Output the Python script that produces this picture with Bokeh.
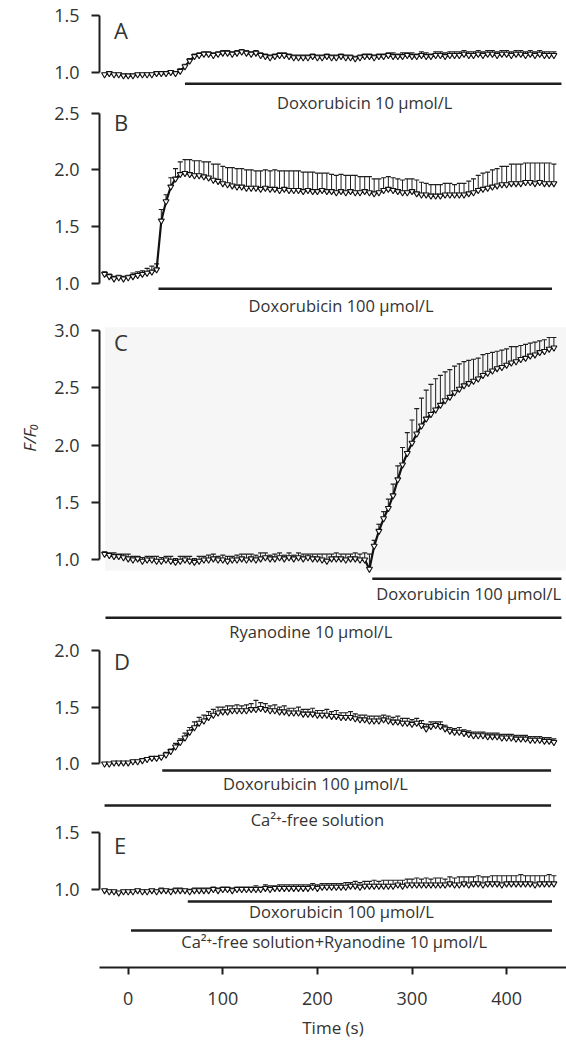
from bokeh.plotting import figure
from bokeh.layouts import column
from bokeh.models import (Range1d, FixedTicker, PrintfTickFormatter, Label,
                          BoxAnnotation, ColumnDataSource, Title)
from bokeh.core.properties import value
from bokeh.embed import file_html
from bokeh.resources import INLINE

# ---------------- data ----------------
time_s = list(range(-25, 451, 5))

a_mean = [0.98, 0.99, 0.98, 0.98, 0.97, 0.97, 0.97, 0.98, 0.98, 0.98,
          0.98, 0.99, 0.99, 0.99, 1.00, 0.99, 1.01, 1.05, 1.10, 1.14,
          1.15, 1.16, 1.16, 1.15, 1.16, 1.17, 1.17, 1.16, 1.17, 1.18,
          1.17, 1.16, 1.17, 1.15, 1.14, 1.13, 1.14, 1.15, 1.15, 1.14,
          1.13, 1.13, 1.13, 1.13, 1.14, 1.13, 1.13, 1.14, 1.13, 1.13,
          1.14, 1.13, 1.13, 1.12, 1.13, 1.14, 1.14, 1.13, 1.14, 1.14,
          1.15, 1.14, 1.14, 1.14, 1.15, 1.14, 1.14, 1.15, 1.14, 1.14,
          1.15, 1.15, 1.14, 1.15, 1.15, 1.15, 1.16, 1.15, 1.15, 1.16,
          1.15, 1.16, 1.16, 1.15, 1.16, 1.16, 1.15, 1.16, 1.16, 1.15,
          1.16, 1.15, 1.16, 1.15, 1.15, 1.15]
a_sem = [0.01, 0.01, 0.01, 0.01, 0.01, 0.01, 0.01, 0.01, 0.01, 0.01,
         0.01, 0.01, 0.01, 0.01, 0.01, 0.01, 0.02, 0.02, 0.02, 0.02,
         0.02, 0.02, 0.02, 0.02, 0.02, 0.02, 0.02, 0.02, 0.02, 0.02,
         0.02, 0.02, 0.02, 0.02, 0.02, 0.02, 0.02, 0.02, 0.02, 0.02,
         0.02, 0.02, 0.02, 0.02, 0.02, 0.02, 0.02, 0.02, 0.02, 0.02,
         0.02, 0.02, 0.02, 0.02, 0.02, 0.02, 0.02, 0.02, 0.02, 0.02,
         0.02, 0.03, 0.02, 0.03, 0.02, 0.03, 0.02, 0.03, 0.03, 0.02,
         0.03, 0.03, 0.03, 0.03, 0.03, 0.03, 0.03, 0.03, 0.03, 0.03,
         0.03, 0.03, 0.03, 0.03, 0.03, 0.03, 0.03, 0.03, 0.03, 0.03,
         0.03, 0.03, 0.03, 0.03, 0.03, 0.03]

b_mean = [1.08, 1.06, 1.04, 1.05, 1.04, 1.05, 1.06, 1.07, 1.08, 1.09,
          1.10, 1.12, 1.55, 1.72, 1.85, 1.92, 1.96, 1.97, 1.96, 1.95,
          1.95, 1.94, 1.93, 1.91, 1.90, 1.88, 1.87, 1.86, 1.85, 1.85,
          1.84, 1.84, 1.84, 1.83, 1.84, 1.83, 1.83, 1.82, 1.83, 1.82,
          1.82, 1.82, 1.81, 1.82, 1.81, 1.81, 1.82, 1.81, 1.81, 1.80,
          1.81, 1.80, 1.81, 1.80, 1.80, 1.81, 1.80, 1.79, 1.80, 1.82,
          1.83, 1.82, 1.81, 1.80, 1.80, 1.81, 1.79, 1.78, 1.78, 1.77,
          1.77, 1.77, 1.78, 1.78, 1.78, 1.78, 1.78, 1.79, 1.80, 1.82,
          1.83, 1.84, 1.85, 1.86, 1.87, 1.87, 1.88, 1.88, 1.88, 1.89,
          1.89, 1.88, 1.89, 1.88, 1.88, 1.88]
b_sem = [0.02, 0.02, 0.02, 0.02, 0.02, 0.02, 0.03, 0.03, 0.03, 0.04,
         0.05, 0.05, 0.10, 0.06, 0.08, 0.09, 0.11, 0.12, 0.13, 0.13,
         0.13, 0.13, 0.14, 0.14, 0.15, 0.15, 0.15, 0.16, 0.16, 0.16,
         0.16, 0.16, 0.15, 0.16, 0.16, 0.16, 0.17, 0.17, 0.16, 0.17,
         0.17, 0.17, 0.17, 0.16, 0.17, 0.16, 0.15, 0.16, 0.15, 0.15,
         0.15, 0.15, 0.14, 0.15, 0.14, 0.13, 0.14, 0.13, 0.12, 0.11,
         0.11, 0.11, 0.11, 0.11, 0.12, 0.11, 0.12, 0.11, 0.10, 0.10,
         0.10, 0.10, 0.10, 0.10, 0.09, 0.10, 0.10, 0.11, 0.12, 0.13,
         0.14, 0.14, 0.15, 0.15, 0.16, 0.16, 0.17, 0.17, 0.17, 0.17,
         0.17, 0.18, 0.17, 0.18, 0.18, 0.17]

c_mean = [1.05, 1.04, 1.03, 1.03, 1.02, 1.01, 1.00, 1.01, 0.99, 1.00,
          1.00, 0.99, 0.99, 1.00, 0.99, 0.98, 0.99, 1.00, 0.99, 0.98,
          0.99, 1.00, 1.00, 1.01, 1.00, 1.00, 0.99, 1.00, 1.00, 1.01,
          1.00, 1.01, 1.00, 1.01, 1.02, 1.01, 1.01, 1.02, 1.01, 1.02,
          1.01, 1.02, 1.01, 1.02, 1.01, 1.01, 1.00, 0.99, 1.01, 1.01,
          1.01, 1.00, 1.01, 1.01, 1.00, 1.00, 0.92, 1.12, 1.25, 1.36,
          1.45, 1.56, 1.70, 1.83, 1.93, 2.02, 2.10, 2.17, 2.23, 2.27,
          2.31, 2.35, 2.39, 2.42, 2.46, 2.49, 2.52, 2.54, 2.56, 2.58,
          2.61, 2.63, 2.65, 2.67, 2.68, 2.70, 2.72, 2.73, 2.75, 2.76,
          2.78, 2.79, 2.81, 2.82, 2.84, 2.85]
c_sem = [0.02, 0.02, 0.03, 0.02, 0.03, 0.04, 0.03, 0.02, 0.03, 0.03,
         0.03, 0.04, 0.03, 0.03, 0.04, 0.03, 0.04, 0.03, 0.04, 0.03,
         0.04, 0.03, 0.04, 0.04, 0.03, 0.04, 0.04, 0.03, 0.04, 0.04,
         0.05, 0.04, 0.04, 0.05, 0.04, 0.03, 0.04, 0.04, 0.03, 0.04,
         0.03, 0.04, 0.04, 0.03, 0.04, 0.04, 0.05, 0.06, 0.04, 0.05,
         0.04, 0.05, 0.04, 0.05, 0.05, 0.06, 0.13, 0.05, 0.06, 0.06,
         0.08, 0.10, 0.12, 0.15, 0.18, 0.20, 0.22, 0.24, 0.25, 0.26,
         0.27, 0.26, 0.25, 0.24, 0.23, 0.22, 0.21, 0.20, 0.19, 0.18,
         0.18, 0.17, 0.16, 0.15, 0.15, 0.14, 0.14, 0.13, 0.12, 0.12,
         0.11, 0.11, 0.10, 0.10, 0.10, 0.09]

d_mean = [1.00, 1.00, 1.01, 1.01, 1.01, 1.01, 1.02, 1.02, 1.03, 1.04,
          1.05, 1.05, 1.06, 1.08, 1.11, 1.15, 1.19, 1.23, 1.28, 1.32,
          1.36, 1.38, 1.41, 1.43, 1.45, 1.46, 1.46, 1.47, 1.47, 1.47,
          1.47, 1.48, 1.48, 1.49, 1.48, 1.47, 1.47, 1.46, 1.46, 1.45,
          1.45, 1.45, 1.44, 1.44, 1.44, 1.43, 1.43, 1.43, 1.42, 1.42,
          1.41, 1.41, 1.41, 1.40, 1.39, 1.39, 1.38, 1.38, 1.38, 1.39,
          1.38, 1.37, 1.37, 1.36, 1.36, 1.35, 1.36, 1.34, 1.31, 1.33,
          1.34, 1.33, 1.31, 1.29, 1.28, 1.28, 1.27, 1.26, 1.25, 1.25,
          1.25, 1.24, 1.24, 1.24, 1.23, 1.23, 1.23, 1.22, 1.22, 1.22,
          1.21, 1.21, 1.21, 1.20, 1.20, 1.19]
d_sem = [0.01, 0.01, 0.01, 0.01, 0.01, 0.01, 0.01, 0.01, 0.01, 0.01,
         0.01, 0.01, 0.01, 0.02, 0.02, 0.03, 0.03, 0.04, 0.04, 0.05,
         0.05, 0.05, 0.05, 0.05, 0.05, 0.04, 0.05, 0.04, 0.05, 0.04,
         0.05, 0.05, 0.08, 0.05, 0.05, 0.04, 0.05, 0.04, 0.05, 0.04,
         0.04, 0.05, 0.04, 0.04, 0.05, 0.04, 0.04, 0.05, 0.04, 0.05,
         0.04, 0.04, 0.05, 0.04, 0.04, 0.04, 0.04, 0.04, 0.04, 0.04,
         0.04, 0.04, 0.05, 0.04, 0.04, 0.04, 0.04, 0.04, 0.04, 0.04,
         0.03, 0.04, 0.03, 0.03, 0.03, 0.04, 0.03, 0.03, 0.03, 0.03,
         0.03, 0.03, 0.03, 0.03, 0.03, 0.03, 0.03, 0.03, 0.03, 0.03,
         0.03, 0.03, 0.03, 0.03, 0.03, 0.03]

e_mean = [0.99, 0.98, 0.98, 0.97, 0.98, 0.98, 0.98, 0.99, 0.98, 0.98,
          0.99, 0.98, 0.99, 0.99, 0.98, 0.99, 0.99, 0.99, 0.98, 0.99,
          0.99, 0.99, 0.99, 1.00, 0.99, 1.00, 1.00, 0.99, 1.00, 1.00,
          1.00, 1.00, 1.00, 1.00, 1.01, 1.00, 1.01, 1.01, 1.01, 1.01,
          1.01, 1.01, 1.01, 1.01, 1.02, 1.01, 1.02, 1.02, 1.02, 1.02,
          1.02, 1.02, 1.03, 1.03, 1.02, 1.03, 1.03, 1.03, 1.03, 1.03,
          1.03, 1.03, 1.04, 1.03, 1.04, 1.04, 1.04, 1.04, 1.04, 1.04,
          1.04, 1.04, 1.04, 1.05, 1.04, 1.04, 1.05, 1.04, 1.05, 1.05,
          1.04, 1.05, 1.05, 1.05, 1.04, 1.05, 1.05, 1.05, 1.05, 1.05,
          1.05, 1.04, 1.05, 1.05, 1.05, 1.05]
e_sem = [0.01, 0.01, 0.01, 0.01, 0.01, 0.01, 0.01, 0.01, 0.01, 0.01,
         0.01, 0.01, 0.02, 0.01, 0.02, 0.02, 0.02, 0.01, 0.02, 0.02,
         0.02, 0.02, 0.02, 0.02, 0.02, 0.02, 0.02, 0.02, 0.02, 0.02,
         0.02, 0.02, 0.03, 0.02, 0.03, 0.03, 0.02, 0.03, 0.03, 0.03,
         0.03, 0.03, 0.03, 0.03, 0.03, 0.03, 0.03, 0.03, 0.03, 0.03,
         0.03, 0.04, 0.03, 0.04, 0.04, 0.04, 0.04, 0.05, 0.04, 0.05,
         0.05, 0.05, 0.04, 0.05, 0.05, 0.05, 0.06, 0.05, 0.06, 0.05,
         0.06, 0.06, 0.05, 0.06, 0.06, 0.07, 0.06, 0.07, 0.06, 0.07,
         0.07, 0.06, 0.07, 0.07, 0.08, 0.07, 0.07, 0.07, 0.08, 0.07,
         0.07, 0.08, 0.07, 0.07, 0.08, 0.07]

# treatments (labels, start time, end time in s)
a_treat = ["Doxorubicin 10 μmol/L"]
a_start, a_end = [60], [458]
b_treat = ["Doxorubicin 100 μmol/L"]
b_start, b_end = [32], [448]
c_treat = ["Doxorubicin 100 μmol/L", "Ryanodine 10 μmol/L"]
c_start, c_end = [258, -24], [458, 458]
d_treat = ["Doxorubicin 100 μmol/L", "Ca²⁺-free solution"]
d_start, d_end = [36, -25], [447, 447]
e_treat = ["Doxorubicin 100 μmol/L", "Ca²⁺-free solution+Ryanodine 10 μmol/L"]
e_start, e_end = [63, 3], [448, 448]

panel_letters = ["A", "B", "C", "D", "E"]
x_ticks = [0, 100, 200, 300, 400]
y_title = "F/F₀"
x_title = "Time (s)"

# ---------------- layout (page pixels; bokeh page has no margin) ----------
FONT = "Open Sans"
INK = "#1e1e1e"
TXT = "#333333"
FIG_W = 566
LEFT = 99          # frame left at page x = 99


def t_of(px):      # page x -> time
    return (px - 127.7) / 0.946


X_RANGE = Range1d(t_of(LEFT), t_of(FIG_W))

# figure bands: top, bottom, page y of F/F0 = 1.0, px per unit
bands = [
    dict(top=0, bottom=88, one=71.7, scale=113.4, ticks=[1.0, 1.5], base=29.3),
    dict(top=88, bottom=317, one=282.7, scale=113.4,
         ticks=[1.0, 1.5, 2.0, 2.5], base=121.7),
    dict(top=317, bottom=619, one=559.3, scale=114.6,
         ticks=[1.0, 1.5, 2.0, 2.5, 3.0], base=341),
    dict(top=619, bottom=807, one=763.3, scale=113.4,
         ticks=[1.0, 1.5, 2.0], base=660.7),
    dict(top=807, bottom=1041, frame_bottom=968, one=889.3, scale=113.4,
         ticks=[1.0, 1.5], base=845),
]

# page-y of treatment bars and their labels, and label centre (time)
bar_px = [[83.3], [288.3], [578.3, 617.3], [770, 805], [901.7, 930.7]]
text_px = [[102], [305], [593.3, 631], [783.3, 819], [911.7, 941.7]]
text_t = [[250], [225], [360, 193], [198, 200], [225.5, 217.7]]

series = [(a_mean, a_sem), (b_mean, b_sem), (c_mean, c_sem),
          (d_mean, d_sem), (e_mean, e_sem)]
treats = [(a_treat, a_start, a_end), (b_treat, b_start, b_end),
          (c_treat, c_start, c_end), (d_treat, d_start, d_end),
          (e_treat, e_start, e_end)]


def v_for(band):
    return lambda py: 1.0 + (band["one"] - py) / band["scale"]


figs = []
for i, band in enumerate(bands):
    v = v_for(band)
    last = i == len(bands) - 1
    fb = band.get("frame_bottom", band["bottom"])
    p = figure(width=FIG_W, height=int(round(band["bottom"] - band["top"])),
               x_range=X_RANGE, y_range=Range1d(v(fb), v(band["top"])),
               output_backend="svg", toolbar_location=None,
               x_axis_location="below" if last else None,
               min_border_left=LEFT, min_border_right=0, min_border_top=0,
               min_border_bottom=int(round(band["bottom"] - fb)),
               outline_line_color=None, background_fill_color="white",
               border_fill_color="white")
    p.grid.visible = False

    if i == 2:
        p.add_layout(BoxAnnotation(left=t_of(104.7), right=X_RANGE.end,
                                   top=v(326.7), bottom=v(570),
                                   fill_color="#f6f6f6", fill_alpha=1.0,
                                   line_color=None, level="underlay"))

    ticks = band["ticks"]
    ya = p.yaxis[0]
    ya.ticker = FixedTicker(ticks=ticks)
    ya.bounds = (ticks[0], ticks[-1])
    ya.formatter = PrintfTickFormatter(format="%.1f")
    ya.axis_line_width = 2
    ya.axis_line_color = INK
    ya.major_tick_line_width = 2
    ya.major_tick_line_color = INK
    ya.major_tick_out = 8
    ya.major_tick_in = 0
    ya.minor_tick_line_color = None
    ya.major_label_standoff = 12
    ya.major_label_text_font = FONT
    ya.major_label_text_font_size = "18px"
    ya.major_label_text_color = TXT

    if last:
        xa = p.xaxis[0]
        xa.ticker = FixedTicker(ticks=x_ticks)
        xa.axis_line_width = 2
        xa.axis_line_color = INK
        xa.major_tick_line_width = 2
        xa.major_tick_line_color = INK
        xa.major_tick_out = 7
        xa.major_tick_in = 0
        xa.minor_tick_line_color = None
        xa.major_label_standoff = 17
        xa.major_label_text_font = FONT
        xa.major_label_text_font_size = "18px"
        xa.major_label_text_color = TXT
        xa.axis_label = x_title
        xa.axis_label_text_font = FONT
        xa.axis_label_text_font_style = "normal"
        xa.axis_label_text_font_size = "17px"
        xa.axis_label_text_color = TXT
        xa.axis_label_standoff = 8

    if i == 2:
        # left-side title: align "right" = top end of the frame; offset moves it down
        ttl = Title(text=y_title, align="right", offset=106,
                    text_font=FONT, text_font_size="17px",
                    text_font_style="italic", text_color=TXT)
        if "standoff" in Title.properties():
            ttl.standoff = 22
        p.add_layout(ttl, "left")

    mean, sem = series[i]
    src = ColumnDataSource(dict(t=time_s, m=mean,
                                top=[m + s for m, s in zip(mean, sem)]))
    p.segment(x0="t", y0="m", x1="t", y1="top", source=src,
              line_color=INK, line_width=1)
    p.scatter("t", "top", source=src, marker="dash", size=5,
              line_color=INK, line_width=1.2)
    p.line("t", "m", source=src, line_color="#111111", line_width=2.2)
    p.scatter("t", "m", source=src, marker="inverted_triangle", size=6,
              fill_color="white", line_color="#111111", line_width=1.1)

    labels, starts, ends = treats[i]
    bsrc = ColumnDataSource(dict(x0=starts, x1=ends,
                                 y=[v(b) for b in bar_px[i]]))
    p.segment(x0="x0", y0="y", x1="x1", y1="y", source=bsrc,
              line_color=INK, line_width=2.5)

    p.add_layout(Label(x=-15, y=v(band["base"]), text=panel_letters[i],
                       text_font=FONT, text_font_size="22px",
                       text_baseline="alphabetic", text_align="left",
                       text_color=TXT))
    figs.append(p)

# treatment labels: drawn in whichever band holds their page position
for i in range(len(bands)):
    labels = treats[i][0]
    for lab, ty, tt in zip(labels, text_px[i], text_t[i]):
        j = max(k for k, b in enumerate(bands) if b["top"] <= ty)
        v = v_for(bands[j])
        figs[j].text(x=[tt], y=[v(ty)], text=[lab], text_align="center",
                     text_baseline="middle", text_font=value(FONT),
                     text_font_size="16.5px", text_color=TXT)

layout = column(*figs, spacing=0)
open("out.html", "w").write(file_html(layout, INLINE))
